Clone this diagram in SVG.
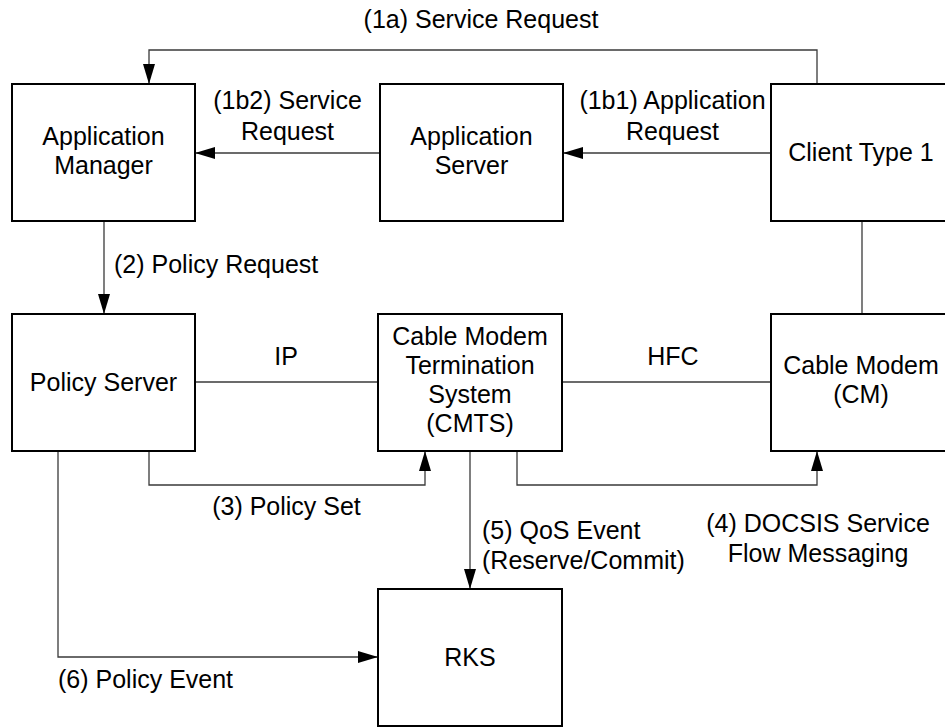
<svg xmlns="http://www.w3.org/2000/svg" width="945" height="727" viewBox="0 0 945 727">
<style>
.box{fill:#fff;stroke:#000;stroke-width:2}
.t{font-family:"Liberation Sans",Arial,sans-serif;font-size:25px;fill:#000}
.c{text-anchor:middle}
.ln{fill:none;stroke:#3a3a3a;stroke-width:1.3}
</style>
<defs>
<marker id="ah" markerUnits="userSpaceOnUse" markerWidth="20" markerHeight="12" refX="20" refY="6" orient="auto">
<path d="M0,0 L20,6 L0,12 z" fill="#000"/>
</marker>
</defs>
<rect width="945" height="727" fill="#fff"/>
<g id="connectors">
<path class="ln" d="M817,84 V50 H149 V84" marker-end="url(#ah)"/>
<path class="ln" d="M771,153 H563" marker-end="url(#ah)"/>
<path class="ln" d="M380,153 H195" marker-end="url(#ah)"/>
<path class="ln" d="M104,221 V314" marker-end="url(#ah)"/>
<path class="ln" d="M862,221 V314"/>
<path class="ln" d="M195,382 H378"/>
<path class="ln" d="M562,382 H771"/>
<path class="ln" d="M149,451 V485 H425 V451" marker-end="url(#ah)"/>
<path class="ln" d="M517,451 V485 H817 V451" marker-end="url(#ah)"/>
<path class="ln" d="M470,451 V589" marker-end="url(#ah)"/>
<path class="ln" d="M58,451 V657 H378" marker-end="url(#ah)"/>
<text class="t c" x="481" y="28">(1a) Service Request</text>
<text class="t c" x="287.5" y="109">(1b2) Service</text>
<text class="t c" x="287.5" y="140">Request</text>
<text class="t c" x="672.5" y="109">(1b1) Application</text>
<text class="t c" x="672.5" y="140">Request</text>
<text class="t" x="114" y="273">(2) Policy Request</text>
<text class="t c" x="286" y="365">IP</text>
<text class="t c" x="673" y="365">HFC</text>
<text class="t c" x="286.5" y="515">(3) Policy Set</text>
<text class="t" x="482" y="539">(5) QoS Event</text>
<text class="t" x="482" y="569">(Reserve/Commit)</text>
<text class="t c" x="818" y="532">(4) DOCSIS Service</text>
<text class="t c" x="818" y="562">Flow Messaging</text>
<text class="t" x="58" y="688">(6) Policy Event</text>
</g>
<g id="app-manager">
<rect class="box" x="12" y="84" width="183" height="137"/>
<text class="t c" x="103.5" y="145">Application</text>
<text class="t c" x="103.5" y="174">Manager</text>
</g>
<g id="app-server">
<rect class="box" x="380" y="84" width="183" height="137"/>
<text class="t c" x="471.5" y="145">Application</text>
<text class="t c" x="471.5" y="174">Server</text>
</g>
<g id="client">
<rect class="box" x="771" y="84" width="180" height="137"/>
<text class="t c" x="861" y="161">Client Type 1</text>
</g>
<g id="policy-server">
<rect class="box" x="12" y="314" width="183" height="137"/>
<text class="t c" x="103.5" y="391">Policy Server</text>
</g>
<g id="cmts">
<rect class="box" x="378" y="314" width="184" height="137"/>
<text class="t c" x="470" y="345">Cable Modem</text>
<text class="t c" x="470" y="374">Termination</text>
<text class="t c" x="470" y="403">System</text>
<text class="t c" x="470" y="432">(CMTS)</text>
</g>
<g id="cm">
<rect class="box" x="771" y="314" width="180" height="137"/>
<text class="t c" x="861" y="374">Cable Modem</text>
<text class="t c" x="861" y="403">(CM)</text>
</g>
<g id="rks">
<rect class="box" x="378" y="589" width="184" height="137"/>
<text class="t c" x="470" y="666">RKS</text>
</g>
</svg>
